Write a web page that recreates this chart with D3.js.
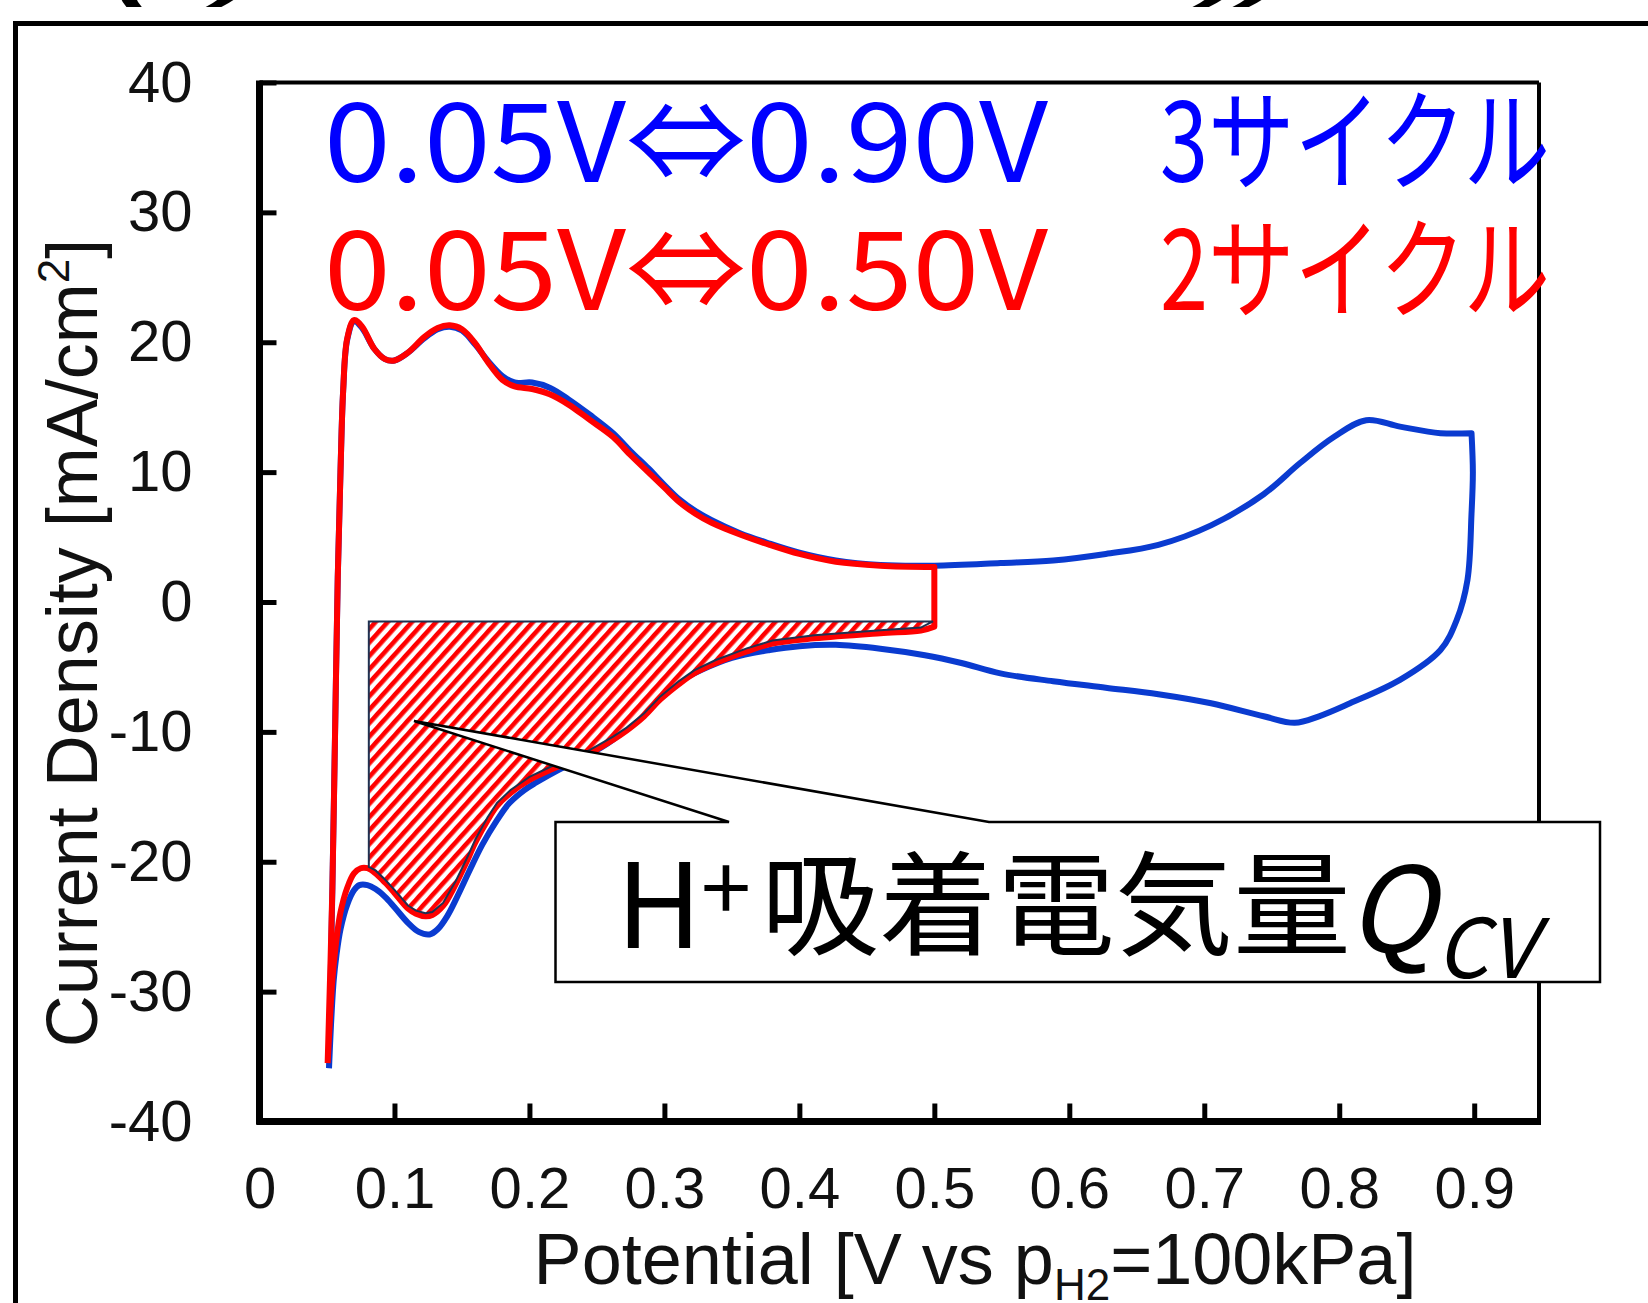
<!DOCTYPE html>
<html>
<head>
<meta charset="utf-8">
<script src="https://cdn.jsdelivr.net/npm/d3@7"></script>
<style>
  body { margin: 0; background: #fff; }
  svg { display: block; }
</style>
</head>
<body>
<svg id="chart"></svg>
<script>
// CV: 0.05V<->0.90V (blue) vs 0.05V<->0.50V (red), H+ adsorption charge hatched

const xTicks = [0, 0.1, 0.2, 0.3, 0.4, 0.5, 0.6, 0.7, 0.8, 0.9];
const yTicks = [-40, -30, -20, -10, 0, 10, 20, 30, 40];

// blue curve (3 cycles, 0.05 - 0.90 V): anodic sweep then cathodic sweep
const blueAnodic = [
    [0.0515, -35.9], [0.054, -22], [0.056, -10], [0.058, 2], [0.060, 10], [0.062, 16.3],
    [0.065, 20.2], [0.070, 21.6], [0.076, 21.1], [0.085, 19.5], [0.093, 18.7], [0.100, 18.6],
    [0.110, 19.2], [0.122, 20.3], [0.132, 21.0], [0.141, 21.2], [0.150, 20.9], [0.160, 19.8],
    [0.169, 18.6], [0.180, 17.4], [0.189, 16.9], [0.202, 16.9], [0.215, 16.5], [0.229, 15.6],
    [0.245, 14.4], [0.262, 13.0], [0.275, 11.6], [0.288, 10.3], [0.300, 9.0], [0.311, 7.9],
    [0.323, 7.0], [0.335, 6.3], [0.356, 5.3], [0.378, 4.5], [0.400, 3.8], [0.427, 3.2],
    [0.460, 2.85], [0.500, 2.8], [0.549, 3.0], [0.588, 3.2], [0.627, 3.7], [0.666, 4.4],
    [0.705, 5.9], [0.744, 8.3], [0.771, 10.7], [0.796, 12.7], [0.820, 14.0], [0.845, 13.5],
    [0.875, 13.0], [0.898, 13.0]
];
const blueCathodic = [
    [0.898, 13.0], [0.899, 10.0], [0.898, 6.8], [0.895, 1.7], [0.887, -1.4], [0.875, -3.7], [0.845, -6.0],
    [0.808, -7.8], [0.785, -8.8], [0.767, -9.3], [0.744, -8.8], [0.705, -7.8],
    [0.666, -7.1], [0.627, -6.6], [0.588, -6.1], [0.549, -5.5], [0.520, -4.7], [0.493, -4.1],
    [0.460, -3.6], [0.427, -3.3], [0.400, -3.4], [0.378, -3.7], [0.350, -4.3], [0.328, -5.2],
    [0.310, -6.2], [0.295, -7.5], [0.278, -9.1], [0.262, -10.6], [0.240, -12.0], [0.222, -12.9],
    [0.205, -13.9], [0.196, -14.5], [0.185, -15.5], [0.176, -16.8], [0.165, -18.7], [0.156, -20.6],
    [0.146, -22.8], [0.139, -24.2], [0.132, -25.2], [0.126, -25.6], [0.118, -25.4], [0.110, -24.7],
    [0.100, -23.5], [0.093, -22.7], [0.086, -22.1], [0.080, -21.8], [0.074, -21.8], [0.070, -22.2],
    [0.065, -23.3], [0.060, -25.2], [0.057, -27.2], [0.055, -29.1], [0.053, -32.5], [0.0515, -35.9]
];

// red curve (2 cycles, 0.05 - 0.50 V)
const redAnodic = [
    [0.0505, -35.5], [0.054, -22], [0.056, -10], [0.058, 2], [0.060, 10], [0.062, 16.3],
    [0.065, 20.3], [0.070, 21.7], [0.076, 21.2], [0.085, 19.5], [0.093, 18.7], [0.100, 18.6],
    [0.110, 19.2], [0.122, 20.4], [0.132, 21.1], [0.141, 21.3], [0.150, 21.0], [0.160, 19.9],
    [0.169, 18.5], [0.180, 17.1], [0.189, 16.6], [0.202, 16.4], [0.215, 16.0], [0.229, 15.2],
    [0.245, 14.0], [0.262, 12.7], [0.275, 11.3], [0.288, 10.0], [0.300, 8.8], [0.311, 7.7],
    [0.323, 6.8], [0.335, 6.1], [0.356, 5.2], [0.378, 4.4], [0.400, 3.7], [0.427, 3.1],
    [0.460, 2.8], [0.500, 2.7]
];
const redCathodic = [
    [0.500, -1.9], [0.490, -2.2], [0.460, -2.4], [0.411, -2.8], [0.380, -3.2], [0.361, -3.8],
    [0.338, -4.7], [0.322, -5.5], [0.311, -6.3], [0.297, -7.5], [0.285, -8.8], [0.272, -9.9],
    [0.262, -10.6], [0.240, -11.9], [0.216, -12.9], [0.200, -13.7], [0.186, -14.7], [0.176, -15.7],
    [0.169, -16.8], [0.160, -18.5], [0.153, -20.1], [0.145, -21.8], [0.136, -23.4], [0.128, -24.1],
    [0.123, -24.2], [0.116, -24.0], [0.110, -23.6], [0.100, -22.4], [0.093, -21.6], [0.086, -20.9],
    [0.080, -20.5], [0.075, -20.5], [0.070, -20.9], [0.065, -22.0], [0.060, -23.9], [0.057, -26.0],
    [0.054, -29.1], [0.052, -32.5], [0.0505, -35.5]
];

// hatched Q_CV region: top level and left edge
const qcvTop = -1.5;
const qcvLeft = 0.081;
const qcvRight = 0.499;
const qcvLeftBottom = -20.4;

const legendRows = [
    { range: '0.05V⇔0.90V', cycles: '3サイクル', color: '#0000ff' },
    { range: '0.05V⇔0.50V', cycles: '2サイクル', color: '#ff0000' }
];

const W = 1648, H = 1303;
const M = { left: 259.5, right: 1539, top: 82.5, bottom: 1121.5 };

const svg = d3.select('#chart').attr('width', W).attr('height', H);

// hatch pattern
const defs = svg.append('defs');
const pat = defs.append('pattern')
    .attr('id', 'hatch')
    .attr('patternUnits', 'userSpaceOnUse')
    .attr('width', 9).attr('height', 9)
    .attr('patternTransform', 'rotate(42)');
pat.append('rect').attr('width', 9).attr('height', 9).attr('fill', '#fff');
pat.append('rect').attr('width', 4.6).attr('height', 9).attr('fill', '#ff0000');

// outer frame + cut-off title
svg.append('rect')
    .attr('x', 15.5).attr('y', 23.5)
    .attr('width', 1700).attr('height', 1400)
    .attr('fill', 'none').attr('stroke', '#000').attr('stroke-width', 5);

svg.append('text')
    .attr('x', 114).attr('y', -6)
    .attr('textLength', 140).attr('lengthAdjust', 'spacingAndGlyphs')
    .attr('font-family', 'Liberation Sans, Arial, sans-serif')
    .attr('font-weight', 'bold').attr('font-style', 'italic').attr('font-size', 62)
    .text('(a)');
svg.append('text')
    .attr('x', 1203).attr('y', -6)
    .attr('textLength', 80).attr('lengthAdjust', 'spacingAndGlyphs')
    .attr('font-family', 'Liberation Sans, Arial, sans-serif')
    .attr('font-weight', 'bold').attr('font-style', 'italic').attr('font-size', 62)
    .text('))');

const x = d3.scaleLinear().domain([0, 0.948]).range([M.left, M.right]);
const y = d3.scaleLinear().domain([-40, 40]).range([M.bottom, M.top]);

// plot frame
const frame = svg.append('g').attr('stroke', '#000').attr('fill', 'none');
frame.append('line').attr('x1', M.left).attr('x2', M.right).attr('y1', M.top).attr('y2', M.top).attr('stroke-width', 4);
frame.append('line').attr('x1', M.right).attr('x2', M.right).attr('y1', M.top).attr('y2', M.bottom).attr('stroke-width', 4);
frame.append('line').attr('x1', M.left).attr('x2', M.left).attr('y1', M.top - 2).attr('y2', M.bottom + 3).attr('stroke-width', 7);
frame.append('line').attr('x1', M.left - 3).attr('x2', M.right + 2).attr('y1', M.bottom).attr('y2', M.bottom).attr('stroke-width', 7);

// axes
const fontAxis = 'Liberation Sans, Arial, Helvetica, sans-serif';
const yAxis = svg.append('g')
    .attr('transform', `translate(${M.left},0)`)
    .call(d3.axisLeft(y).tickValues(yTicks).tickSizeInner(-17).tickSizeOuter(0).tickPadding(67)
        .tickFormat(d => String(d)));
const xAxis = svg.append('g')
    .attr('transform', `translate(0,${M.bottom})`)
    .call(d3.axisBottom(x).tickValues(xTicks).tickSizeInner(-18).tickSizeOuter(0).tickPadding(45)
        .tickFormat(d => d === 0 ? '0' : d.toFixed(1)));
[xAxis, yAxis].forEach(g => {
    g.select('.domain').remove();
    g.selectAll('.tick line').attr('stroke', '#000').attr('stroke-width', 5);
    g.selectAll('.tick text').attr('font-family', fontAxis).attr('font-size', 58).attr('fill', '#111');
});

// axis titles
svg.append('text')
    .attr('transform', `translate(97,643) rotate(-90)`)
    .attr('text-anchor', 'middle')
    .attr('font-family', fontAxis).attr('font-size', 72).attr('fill', '#111')
    .call(t => {
        t.append('tspan').text('Current Density [mA/cm');
        t.append('tspan').attr('font-size', 44).attr('dy', -28).text('2');
        t.append('tspan').attr('dy', 28).text(']');
    });

svg.append('text')
    .attr('x', 975).attr('y', 1284)
    .attr('text-anchor', 'middle')
    .attr('font-family', fontAxis).attr('font-size', 72).attr('fill', '#111')
    .call(t => {
        t.append('tspan').text('Potential [V vs p');
        t.append('tspan').attr('font-size', 44).attr('dy', 16).text('H2');
        t.append('tspan').attr('dy', -16).text('=100kPa]');
    });

// curves: each sweep smoothed on its own, the switching points joined straight
const line = d3.line()
    .x(d => x(d[0]))
    .y(d => y(d[1]))
    .curve(d3.curveCatmullRom.alpha(0.5));
const cycle = (a, c) => line(a) + 'L' + line(c).slice(1);

svg.append('path')
    .attr('d', cycle(blueAnodic, blueCathodic))
    .attr('fill', 'none').attr('stroke', '#0a3bd0').attr('stroke-width', 6)
    .attr('stroke-linejoin', 'round');

svg.append('path')
    .attr('d', cycle(redAnodic, redCathodic))
    .attr('fill', 'none').attr('stroke', '#ff0000').attr('stroke-width', 6)
    .attr('stroke-linejoin', 'round');

// hatched H+ adsorption charge region (lower edge sits on the upper edge of the red line)
const qcvPts = [[qcvLeft, qcvTop], [qcvRight, qcvTop]]
    .map(d => [x(d[0]), y(d[1])])
    .concat(redCathodic.filter(d => d[0] <= qcvRight && d[0] >= qcvLeft).map(d => [x(d[0]), y(d[1]) - 3]))
    .concat([[x(qcvLeft), y(qcvLeftBottom)]]);
svg.append('path')
    .attr('d', d3.line().curve(d3.curveLinearClosed)(qcvPts))
    .attr('fill', 'url(#hatch)')
    .attr('stroke', '#1f3050').attr('stroke-width', 2);

// legend texts
const fontJP = '"Noto Sans CJK JP", "Noto Sans CJK SC", sans-serif';
legendRows.forEach((r, i) => {
    const base = 182 + i * 128;
    svg.append('text')
        .attr('x', 324).attr('y', base)
        .attr('textLength', 724).attr('lengthAdjust', 'spacingAndGlyphs')
        .attr('font-family', fontJP).attr('font-size', 110).attr('fill', r.color)
        .text(r.range);
    svg.append('text')
        .attr('x', 1160).attr('y', base)
        .attr('textLength', 390).attr('lengthAdjust', 'spacingAndGlyphs')
        .attr('font-family', fontJP).attr('font-size', 110).attr('fill', r.color)
        .text(r.cycles);
});

// callout box
const box = { x0: 555.5, x1: 1600, y0: 822, y1: 982 };
const tip = [414, 721];
const callout = d3.path();
callout.moveTo(box.x0, box.y0);
callout.lineTo(729, box.y0);
callout.lineTo(tip[0], tip[1]);
callout.lineTo(989, box.y0);
callout.lineTo(box.x1, box.y0);
callout.lineTo(box.x1, box.y1);
callout.lineTo(box.x0, box.y1);
callout.closePath();
svg.append('path')
    .attr('d', callout.toString())
    .attr('fill', '#fff').attr('stroke', '#000').attr('stroke-width', 2.5)
    .attr('stroke-linejoin', 'miter');

const lbl = svg.append('g').attr('font-family', fontJP).attr('fill', '#000');
lbl.append('text').attr('x', 616).attr('y', 948).attr('font-size', 118).text('H');
lbl.append('text').attr('x', 701).attr('y', 921).attr('font-size', 90).text('+');
lbl.append('text').attr('x', 761).attr('y', 946)
    .attr('textLength', 590).attr('lengthAdjust', 'spacingAndGlyphs')
    .attr('font-size', 113).text('吸着電気量');
lbl.append('text').attr('x', 1347).attr('y', 952).attr('font-size', 118).attr('font-style', 'italic').text('Q');
lbl.append('text').attr('x', 1436).attr('y', 978).attr('font-size', 82).attr('font-style', 'italic').text('CV');
</script>
</body>
</html>
